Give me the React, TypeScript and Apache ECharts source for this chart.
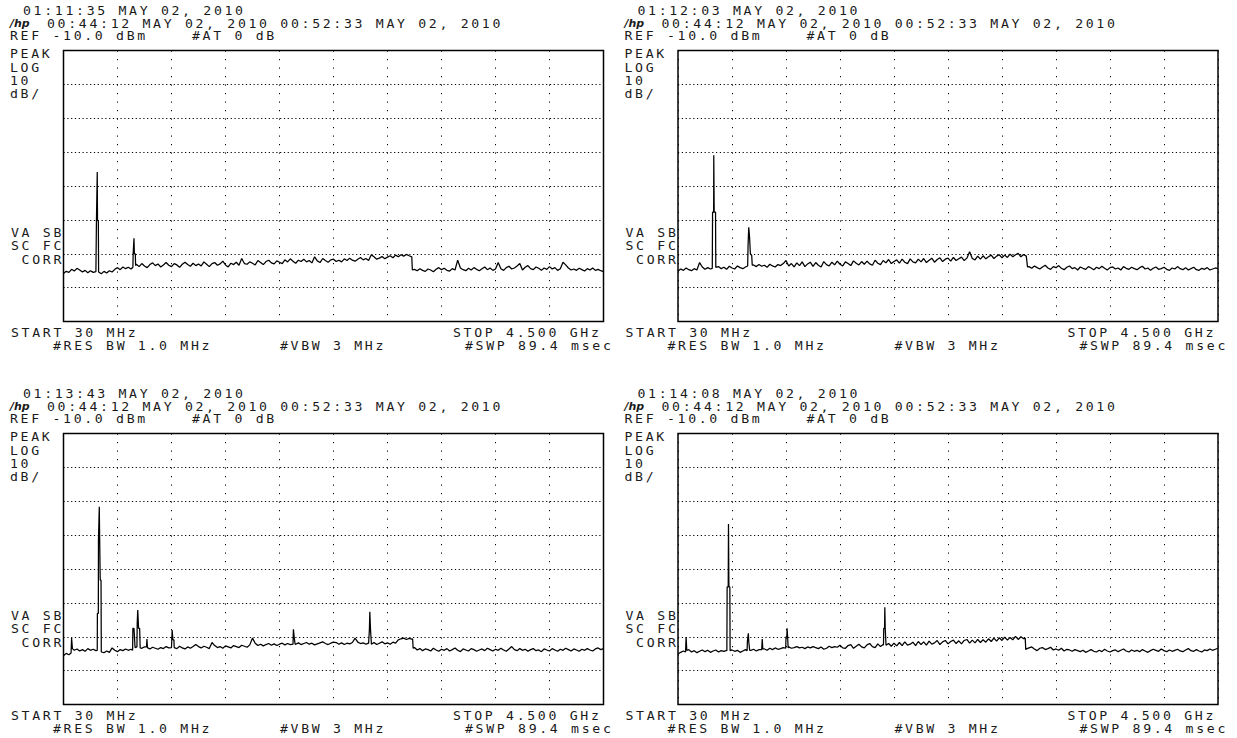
import React, { useEffect, useRef } from "react";
import * as echarts from "echarts";

// ---- data (trace points 0..400 of a 401-point sweep, 30 MHz .. 4.5 GHz; values in dBm) ----
const sweepPoints = [0, 400];
const refLevel = [-90, -10];
const floorStep = 2;

const floorA = [
  -75.8, -75.2, -75.5, -74.6, -75.1, -74.3, -74.8, -75.4, -74.9, -75.6,
  -75.0, -75.5, -75.3, -75.6, -75.9, -75.2, -75.7, -75.0, -75.4, -74.6,
  -74.1, -74.7, -73.9, -74.4, -74.0, -74.5, -74.2, -73.1, -73.8, -72.9,
  -73.6, -74.1, -73.2, -72.7, -73.5, -73.0, -73.9, -73.3, -72.6, -73.4,
  -73.8, -72.9, -73.3, -74.0, -73.1, -72.5, -73.2, -73.7, -72.8, -73.5,
  -73.0, -73.6, -72.4, -73.1, -73.8, -72.9, -72.6, -73.4, -73.0, -72.2,
  -73.3, -73.9, -72.8, -73.2, -72.5, -73.4, -71.4, -72.9, -73.1, -72.4,
  -72.8, -73.3, -72.0, -72.6, -73.2, -72.3, -71.9, -72.7, -73.0, -72.1,
  -72.5, -72.9, -71.8, -72.4, -71.5, -72.2, -72.8, -71.9, -72.3, -71.6,
  -72.4, -72.0, -72.7, -70.9, -72.1, -72.6, -71.4, -72.0, -72.5, -71.8,
  -71.6, -72.3, -71.9, -72.4, -71.5, -72.0, -71.3, -71.9, -72.2, -71.6,
  -71.1, -71.8, -71.4, -72.0, -70.3, -70.9, -71.6, -71.3, -70.8, -71.5,
  -71.0, -70.6, -71.2, -70.4, -70.9, -70.3, -70.7, -70.2, -70.6, -70.8,
  -74.6, -75.0, -74.4, -74.9, -75.2, -74.5, -74.8, -75.3, -74.6, -74.1,
  -74.7, -74.3, -74.9, -75.1, -74.4, -74.8, -71.9, -74.2, -74.7, -75.0,
  -74.3, -74.8, -74.1, -74.6, -75.0, -74.4, -73.9, -74.7, -74.2, -74.9,
  -74.5, -72.6, -74.4, -74.9, -74.1, -73.7, -74.5, -74.2, -73.6, -72.9,
  -74.8, -74.0, -73.5, -74.4, -74.7, -73.9, -74.3, -74.9, -74.2, -74.6,
  -73.8, -74.5, -74.1, -74.9, -74.4, -72.5, -73.3, -74.2, -74.8, -74.5,
  -74.9, -74.3, -74.7, -75.1, -74.4, -74.8, -74.2, -74.9, -74.6, -75.0,
  -75.3,
];
const spikesA = [
  [[24.2, -75.2], [24.4, -60.2], [24.9, -60.2], [25.0, -45.9], [25.2, -60.2], [25.8, -60.2], [26.0, -75.4]],
  [[51.4, -74.0], [51.6, -70.0], [52.0, -70.0], [52.2, -65.4], [52.5, -70.0], [53.2, -70.0], [53.4, -73.5]],
  [[258.0, -70.9], [258.4, -74.8]],
];

const floorB = [
  -75.1, -74.5, -74.9, -74.2, -74.7, -75.0, -74.4, -74.8, -72.6, -73.9,
  -74.6, -74.1, -74.5, -74.7, -74.2, -73.8, -74.4, -74.0, -74.6, -73.7,
  -74.2, -74.5, -73.6, -74.1, -74.4, -73.9, -74.0, -74.2, -73.3, -73.8,
  -73.2, -73.7, -73.4, -74.0, -73.1, -73.6, -73.9, -73.2, -73.5, -72.9,
  -72.0, -73.6, -72.9, -73.9, -72.7, -73.5, -72.4, -73.8, -73.0, -72.5,
  -73.7, -72.6, -73.4, -73.9, -72.3, -73.2, -73.6, -72.5, -73.3, -72.2,
  -73.1, -73.6, -72.4, -72.9, -73.5, -72.1, -72.8, -73.3, -72.3, -73.1,
  -72.2, -73.0, -73.4, -71.9, -72.8, -73.2, -72.0, -72.7, -71.7, -72.9,
  -72.3, -71.8, -72.8, -71.6, -72.5, -72.9, -71.5, -72.4, -72.7, -71.6,
  -72.4, -71.4, -72.6, -71.9, -71.3, -72.5, -71.7, -71.2, -72.3, -71.6,
  -71.3, -72.2, -71.1, -72.0, -71.5, -71.0, -72.0, -71.3, -69.4, -71.4,
  -71.8, -70.7, -71.6, -70.6, -71.5, -70.9, -70.4, -71.4, -70.7, -70.3,
  -71.2, -70.4, -71.1, -70.1, -70.9, -70.3, -69.9, -70.9, -70.2, -70.7,
  -73.8, -74.3, -73.6, -74.1, -74.5, -73.9, -73.4, -74.2, -74.6, -73.8,
  -74.1, -73.5, -74.3, -74.7, -74.0, -73.6, -74.4, -74.1, -74.8, -73.9,
  -74.3, -74.6, -73.8, -74.2, -74.7, -74.0, -74.4, -73.7, -74.3, -74.8,
  -74.1, -73.9, -74.5, -74.2, -74.8, -73.8, -74.3, -74.6, -74.0, -74.4,
  -74.7, -74.1, -73.7, -74.5, -74.2, -74.9, -74.3, -73.9, -74.6, -74.4,
  -74.0, -74.6, -74.9, -74.2, -74.5, -73.8, -74.4, -74.7, -74.1, -74.8,
  -74.4, -74.0, -74.7, -74.9, -74.3, -74.6, -74.1, -74.8, -74.5, -74.2,
  -74.4,
];
const spikesB = [
  [[25.4, -74.3], [25.6, -57.7], [26.4, -57.7], [26.5, -40.9], [26.8, -57.7], [27.8, -57.7], [28.0, -74.0]],
  [[51.6, -73.6], [51.9, -67.6], [52.4, -62.2], [53.0, -65.0], [53.6, -70.0], [54.6, -70.5], [55.0, -73.4]],
  [[258.5, -70.7], [258.9, -73.9]],
];

const floorC = [
  -75.6, -74.9, -75.3, -74.8, -74.0, -73.6, -74.2, -73.8, -74.3, -73.5,
  -74.0, -73.7, -74.1, -73.9, -74.5, -74.7, -74.2, -74.6, -73.3, -74.0,
  -74.4, -73.8, -74.1, -73.6, -74.0, -73.7, -73.5, -73.8, -73.2, -73.4,
  -73.0, -73.5, -73.6, -73.1, -73.4, -73.7, -73.2, -73.5, -72.9, -73.3,
  -73.1, -73.4, -73.5, -72.8, -73.3, -73.6, -73.0, -73.4, -72.9, -72.3,
  -72.9, -73.3, -72.8, -73.1, -73.5, -71.7, -72.6, -73.2, -72.9, -73.4,
  -72.7, -73.0, -73.3, -72.6, -72.9, -73.2, -72.5, -72.8, -73.1, -72.4,
  -70.4, -71.9, -72.6, -72.2, -72.7, -72.3, -72.0, -72.5, -72.1, -72.6,
  -72.2, -71.9, -72.4, -72.0, -72.3, -72.1, -72.2, -71.8, -72.3, -72.0,
  -71.7, -72.2, -71.9, -72.4, -72.1, -71.8, -71.5, -72.0, -72.3, -71.9,
  -71.6, -71.7, -72.2, -71.8, -72.3, -71.9, -72.1, -71.7, -70.4, -71.6,
  -72.0, -71.8, -72.2, -71.9, -72.2, -71.7, -72.3, -71.9, -71.5, -72.1,
  -71.8, -72.2, -71.6, -71.9, -70.9, -70.6, -70.4, -70.8, -70.5, -70.7,
  -73.2, -73.9, -73.5, -74.1, -73.6, -73.8, -74.2, -73.4, -73.9, -74.3,
  -73.7, -74.0, -73.5, -74.2, -73.8, -73.3, -74.0, -74.4, -73.6, -73.9,
  -74.2, -73.5, -73.8, -74.3, -73.9, -73.6, -74.1, -73.4, -73.8, -74.2,
  -73.7, -74.0, -73.4, -73.9, -74.3, -73.6, -72.9, -73.8, -74.1, -73.5,
  -74.0, -73.7, -74.3, -73.8, -73.5, -74.1, -73.9, -74.4, -73.6, -73.9,
  -74.2, -73.5, -73.9, -74.3, -73.7, -74.0, -73.4, -73.8, -74.2, -73.6,
  -73.9, -74.3, -73.7, -74.0, -73.5, -73.9, -74.2, -73.6, -73.3, -73.8,
  -73.5,
];
const spikesC = [
  [[5.6, -74.8], [6.0, -70.4], [6.6, -73.5]],
  [[25.0, -74.0], [25.1, -63.1], [25.8, -63.1], [25.9, -41.4], [26.3, -41.4], [26.5, -31.6], [26.8, -41.4], [27.2, -53.3], [27.8, -53.3], [28.0, -74.5]],
  [[51.2, -74.0], [51.4, -67.5], [52.2, -67.5], [53.0, -73.2], [54.4, -73.0], [54.6, -66.0], [55.0, -62.1], [55.6, -67.5], [56.4, -67.5], [56.8, -73.3]],
  [[61.5, -73.0], [61.8, -70.7], [62.2, -73.2]],
  [[80.0, -73.2], [80.2, -70.9], [80.5, -68.0], [81.0, -70.9], [81.8, -70.9], [82.0, -73.2]],
  [[170.0, -72.2], [170.3, -67.8], [171.0, -70.5], [171.6, -72.3]],
  [[226.4, -72.0], [226.6, -67.8], [226.9, -62.6], [227.4, -67.8], [227.9, -67.8], [228.1, -72.2]],
  [[258.6, -70.6], [259.0, -73.4]],
];

const floorD = [
  -75.1, -74.6, -74.2, -74.0, -73.8, -74.5, -74.1, -74.7, -74.3, -73.9,
  -74.4, -74.0, -74.6, -74.2, -73.9, -74.5, -74.1, -74.3, -74.0, -74.2,
  -73.9, -74.3, -74.0, -74.6, -74.2, -73.8, -74.1, -74.0, -73.7, -74.2,
  -73.8, -73.5, -73.6, -74.0, -73.4, -73.8, -73.3, -73.7, -73.5, -73.2,
  -73.4, -73.0, -73.4, -73.2, -72.9, -73.3, -73.1, -73.5, -73.0, -73.3,
  -72.9, -73.2, -73.5, -73.0, -73.7, -73.4, -72.8, -73.2, -72.9, -73.1,
  -72.5, -73.3, -73.4, -72.6, -72.3, -73.4, -72.8, -72.2, -73.0, -73.3,
  -72.4, -72.0, -72.9, -73.2, -72.1, -72.9, -72.3, -73.0, -72.0, -72.8,
  -71.9, -72.7, -71.7, -72.6, -71.5, -72.5, -72.2, -71.6, -72.6, -71.4,
  -72.3, -71.5, -72.5, -71.3, -72.2, -71.8, -71.1, -72.3, -71.5, -71.1,
  -72.1, -71.4, -71.0, -72.0, -71.2, -72.1, -71.1, -70.8, -71.9, -71.0,
  -71.8, -70.8, -71.7, -70.9, -71.6, -70.6, -71.4, -70.4, -71.3, -70.3,
  -71.1, -70.1, -71.0, -70.2, -70.9, -69.9, -70.8, -70.0, -70.6, -73.6,
  -73.3, -73.0, -73.6, -74.1, -73.4, -73.2, -73.8, -73.5, -73.1, -73.9,
  -73.6, -74.0, -73.4, -74.2, -73.7, -73.9, -74.3, -73.8, -74.1, -74.4,
  -74.0, -74.6, -74.2, -73.8, -74.3, -74.5, -74.0, -74.4, -73.7, -74.2,
  -74.5, -74.1, -73.9, -74.4, -74.0, -73.6, -74.2, -74.5, -73.9, -74.3,
  -74.0, -74.4, -73.8, -74.2, -74.6, -74.1, -73.7, -74.0, -74.3, -73.6,
  -74.1, -74.4, -73.9, -74.3, -74.0, -73.7, -74.2, -74.4, -73.9, -73.5,
  -74.1, -74.3, -73.8, -74.2, -74.5, -73.9, -74.1, -73.6, -74.0, -73.7,
  -73.4,
];
const spikesD = [
  [[5.6, -74.5], [6.0, -70.1], [6.5, -74.0]],
  [[36.2, -74.2], [36.4, -55.3], [37.2, -55.3], [37.4, -36.7], [37.7, -55.3], [38.4, -55.3], [38.6, -74.1]],
  [[51.2, -74.1], [51.4, -71.4], [51.9, -71.4], [52.1, -69.0], [52.4, -71.4], [52.9, -71.4], [53.1, -74.0]],
  [[62.0, -73.8], [62.4, -70.7], [62.8, -73.6]],
  [[79.8, -73.4], [80.0, -70.0], [80.6, -70.0], [80.8, -67.5], [81.2, -70.0], [81.6, -73.3]],
  [[152.2, -72.5], [152.4, -67.5], [153.0, -67.5], [153.2, -61.3], [153.5, -67.5], [153.9, -67.5], [154.1, -72.5]],
  [[257.2, -70.4], [257.6, -73.8]],
];

const timestamps = ["01:11:35 MAY 02, 2010", "01:12:03 MAY 02, 2010", "01:13:43 MAY 02, 2010", "01:14:08 MAY 02, 2010"];
const sweepText = "00:44:12 MAY 02, 2010 00:52:33 MAY 02, 2010";
const refText = "REF -10.0 dBm";
const attText = "#AT 0 dB";
const scaleLabels = ["PEAK", "LOG", "10", "dB/"];
const corrLabels = ["VA SB", "SC FC", " CORR"];
const startText = "START 30 MHz";
const stopText = "STOP 4.500 GHz";
const rbwText = "#RES BW 1.0 MHz";
const vbwText = "#VBW 3 MHz";
const swpText = "#SWP 89.4 msec";

// ---- layout ----
const PANEL_X = [0, 614.5];
const PANEL_Y = [0, 383];
const BOX = { left: 63.5, top: 50.5, width: 540, height: 271 };
const FONT = "DejaVu Sans Mono";
const FS = 12;
const SX = 1.1;
const LETTER_SPACING = 2.42;
const LOGO = "/hp";

function buildTrace(floor: number[], spikes: number[][][]) {
  const base = floor
    .map((v, i) => [i * floorStep, v])
    .filter(([x]) => !spikes.some((g) => x >= g[0][0] && x <= g[g.length - 1][0]));
  const all = base.concat(...spikes);
  all.sort((a, b) => a[0] - b[0]);
  return all;
}

function txt(x: number, y: number, s: string, extra: any = {}) {
  return {
    type: "text",
    x,
    y,
    scaleX: extra.scaleX ?? SX,
    silent: true,
    style: {
      text: s,
      fill: extra.fill ?? "#1a1a1a",
      fontFamily: extra.fontFamily ?? FONT,
      fontSize: extra.fontSize ?? FS,
      fontStyle: extra.fontStyle ?? "normal",
      fontWeight: extra.fontWeight ?? "normal",
      textAlign: "left",
      textVerticalAlign: "middle",
    },
  };
}

export default function App() {
  const ref = useRef<HTMLDivElement>(null);
  useEffect(() => {
    if (!ref.current) return;
    const chart = echarts.init(ref.current, null, { renderer: "svg" });
    const traces = [
      buildTrace(floorA, spikesA),
      buildTrace(floorB, spikesB),
      buildTrace(floorC, spikesC),
      buildTrace(floorD, spikesD),
    ];
    const grids: any[] = [];
    const xAxes: any[] = [];
    const yAxes: any[] = [];
    const series: any[] = [];
    const graphics: any[] = [];
    for (let p = 0; p < 4; p++) {
      const ox = PANEL_X[p % 2];
      const oy = PANEL_Y[Math.floor(p / 2)];
      grids.push({
        left: BOX.left + ox,
        top: BOX.top + oy,
        width: BOX.width,
        height: BOX.height,
        show: true,
        borderColor: "#000",
        borderWidth: 1.5,
        backgroundColor: "transparent",
        containLabel: false,
      });
      xAxes.push({
        gridIndex: p,
        type: "value",
        min: sweepPoints[0],
        max: sweepPoints[1],
        interval: 40,
        axisLine: { show: false },
        axisTick: { show: false },
        axisLabel: { show: false },
        splitLine: { show: true, lineStyle: { color: "#000", width: 1, type: [1.2, 7.3] } },
      });
      yAxes.push({
        gridIndex: p,
        type: "value",
        min: refLevel[0],
        max: refLevel[1],
        interval: 10,
        axisLine: { show: false },
        axisTick: { show: false },
        axisLabel: { show: false },
        splitLine: { show: true, lineStyle: { color: "#000", width: 1, type: [1.2, 2.6] } },
      });
      series.push({
        type: "line",
        xAxisIndex: p,
        yAxisIndex: p,
        data: traces[p],
        showSymbol: false,
        symbol: "none",
        silent: true,
        lineStyle: { color: "#000", width: 1.25 },
      });
      const tx = 10 + ox;
      graphics.push(txt(23 + ox, 11 + oy, timestamps[p]));
      graphics.push(txt(tx, 23.5 + oy, LOGO, { fontStyle: "italic", fontWeight: "bold", fontSize: 10, scaleX: 1.1, fontFamily: "DejaVu Sans" }));
      graphics.push(txt(47 + ox, 23.5 + oy, sweepText));
      graphics.push(txt(tx, 36 + oy, refText));
      graphics.push(txt(192 + ox, 36 + oy, attText));
      const sy = [54, 67.5, 81, 94];
      scaleLabels.forEach((s, i) => graphics.push(txt(tx, sy[i] + oy, s)));
      const cy = [233, 246, 259.5];
      corrLabels.forEach((s, i) => graphics.push(txt(11 + ox, cy[i] + oy, s)));
      graphics.push(txt(11 + ox, 333 + oy, startText));
      graphics.push(txt(453 + ox, 333 + oy, stopText));
      graphics.push(txt(53 + ox, 345.5 + oy, rbwText));
      graphics.push(txt(280 + ox, 345.5 + oy, vbwText));
      graphics.push(txt(465 + ox, 345.5 + oy, swpText));
    }
    chart.setOption({
      animation: false,
      backgroundColor: "#fff",
      grid: grids,
      xAxis: xAxes,
      yAxis: yAxes,
      series,
      graphic: graphics,
    });
    // wide, evenly spaced instrument lettering
    const space = () => {
      const el = ref.current;
      if (!el) return;
      el.querySelectorAll("text").forEach((t) => {
        if (t.textContent !== LOGO) t.setAttribute("letter-spacing", String(LETTER_SPACING));
      });
    };
    space();
    chart.on("finished", space);
    return () => chart.dispose();
  }, []);
  return (
    <div
      ref={ref}
      style={{ position: "absolute", left: 0, top: 0, width: 1237, height: 738, background: "#fff" }}
    />
  );
}
